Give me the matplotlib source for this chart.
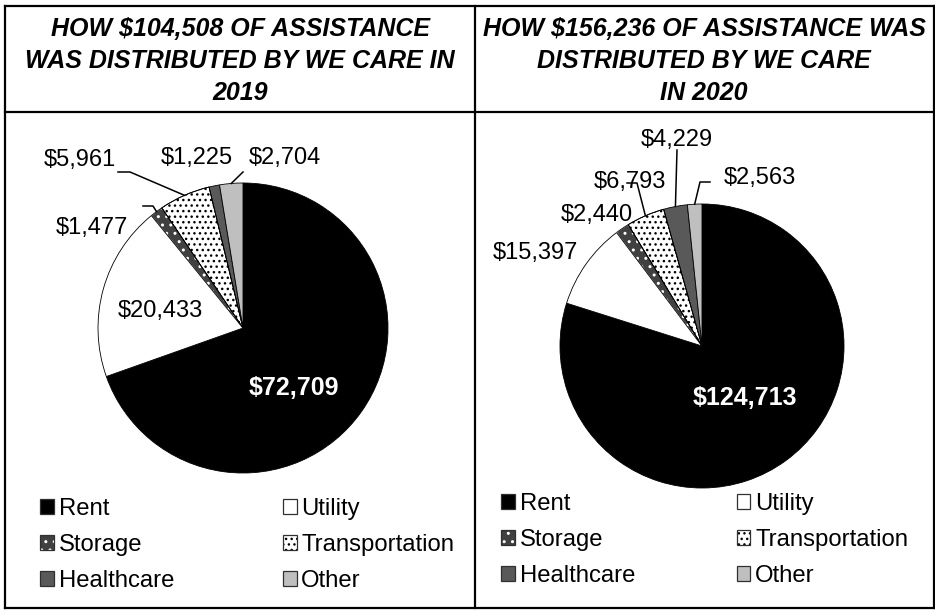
import matplotlib
matplotlib.use("Agg")
import matplotlib.pyplot as plt
from matplotlib.lines import Line2D
from matplotlib.patches import Wedge, Rectangle
from matplotlib.legend_handler import HandlerTuple
import numpy as np

plt.rcParams['font.family'] = ['Liberation Sans', 'DejaVu Sans']
plt.rcParams['hatch.linewidth'] = 1.0

# ---------------- data ----------------
categories = ["Rent", "Utility", "Storage", "Transportation", "Healthcare", "Other"]
values_2019 = [72709, 20433, 1477, 5961, 1225, 2704]
values_2020 = [124713, 15397, 2440, 6793, 4229, 2563]
title_2019 = ["HOW $104,508 OF ASSISTANCE", "WAS DISTRIBUTED BY WE CARE IN", "2019"]
title_2020 = ["HOW $156,236 OF ASSISTANCE WAS", "DISTRIBUTED BY WE CARE", "IN 2020"]

# ---------------- style ----------------
facecolors = ["#000000", "#ffffff", "#404040", "#ffffff", "#595959", "#bfbfbf"]
hatches = [None, None, "..", "...", None, None]
hatchcols = [None, None, "#ffffff", "#000000", None, None]

W, H = 935, 612
fig = plt.figure(figsize=(W / 100, H / 100), dpi=100)


def fx(x):
    return x / W


def fy(y):
    return 1 - y / H


def fline(x0, y0, x1, y1, lw=1.6):
    fig.add_artist(Line2D([fx(x0), fx(x1)], [fy(y0), fy(y1)], color="black",
                          lw=lw, transform=fig.transFigure))


fline(5, 6, 934, 6)
fline(5, 608, 934, 608)
fline(5, 6, 5, 608)
fline(934, 6, 934, 608)
fline(475, 6, 475, 608)
fline(5, 112, 934, 112)

for lines, cx in ((title_2019, 240), (title_2020, 704)):
    for i, t in enumerate(lines):
        fig.text(fx(cx), fy(29 + 32 * i), t, ha="center", va="center",
                 fontsize=18, fontweight="bold", fontstyle="italic")

pie_layout = [
    dict(values=values_2019, cx=243, cy=328, r=145,
         labels=[((294, 388), None), ((160, 311), None),
                 ((92, 228), [(143, 206), (153, 206)]),
                 ((80, 160), [(118, 172), (130, 172)]),
                 ((197, 158), None),
                 ((285, 158), [(243, 172)])],
         legend=(40, 498), colsp=4.55),
    dict(values=values_2020, cx=702, cy=346, r=142,
         labels=[((745, 398), None), ((535, 253), None),
                 ((597, 215), None),
                 ((630, 182), [(627, 183), (637, 183)]),
                 ((677, 140), [(677, 150)]),
                 ((760, 178), [(710, 182), (700, 182)])],
         legend=(501, 493), colsp=4.25),
]

# legend order: row-major display with ncol=2 (column-major filling)
legend_order = [0, 2, 4, 1, 3, 5]

for lay in pie_layout:
    cx, cy, r = lay["cx"], lay["cy"], lay["r"]
    ax = fig.add_axes([fx(cx - r), fy(cy + r), 2 * r / W, 2 * r / H])
    vals = lay["values"]
    wedges, _ = ax.pie(vals, colors=facecolors, startangle=90, counterclock=False,
                       radius=1, wedgeprops=dict(edgecolor="black", linewidth=0.6))
    for w, h, hc in zip(wedges, hatches, hatchcols):
        if h:
            w.set_hatch(h)
            w.set_edgecolor(hc)
            ax.add_patch(Wedge(w.center, w.r, w.theta1, w.theta2, fill=False,
                               edgecolor="black", linewidth=0.6))
    ax.set_xlim(-1, 1)
    ax.set_ylim(-1, 1)
    ax.set_aspect("auto")
    ax.axis("off")

    def d(p):
        return ((p[0] - cx) / r, (cy - p[1]) / r)

    for i, (w, v, (tp, leader)) in enumerate(zip(wedges, vals, lay["labels"])):
        txt = "${:,}".format(v)
        x, y = d(tp)
        if i == 0:
            ax.text(x, y, txt, ha="center", va="center", color="white",
                    fontsize=18, fontweight="bold")
        else:
            ax.text(x, y, txt, ha="center", va="center", color="black", fontsize=17)
        if leader:
            ang = np.deg2rad((w.theta1 + w.theta2) / 2)
            pts = [d(p) for p in leader] + [(np.cos(ang), np.sin(ang))]
            xs, ys = zip(*pts)
            ax.plot(xs, ys, color="black", lw=1.1, clip_on=False)

    handles = []
    for fc, h, hc in zip(facecolors, hatches, hatchcols):
        if h:
            base = Rectangle((0, 0), 1, 1, facecolor=fc, edgecolor=hc, hatch=h, lw=0)
        else:
            base = Rectangle((0, 0), 1, 1, facecolor=fc, edgecolor="none")
        outline = Rectangle((0, 0), 1, 1, fill=False, edgecolor="#303030", lw=0.9)
        handles.append((base, outline))

    lx, ly = lay["legend"]
    fig.legend([handles[k] for k in legend_order],
               [categories[k] for k in legend_order], ncol=2, loc="upper left",
               bbox_to_anchor=(fx(lx), fy(ly)), bbox_transform=fig.transFigure,
               frameon=False, fontsize=17.2, handlelength=0.58, handleheight=0.58,
               handletextpad=0.2, columnspacing=lay["colsp"], labelspacing=0.58,
               borderpad=0, borderaxespad=0,
               handler_map={tuple: HandlerTuple(ndivide=1, pad=0)})

fig.savefig("out.png", dpi=100)
